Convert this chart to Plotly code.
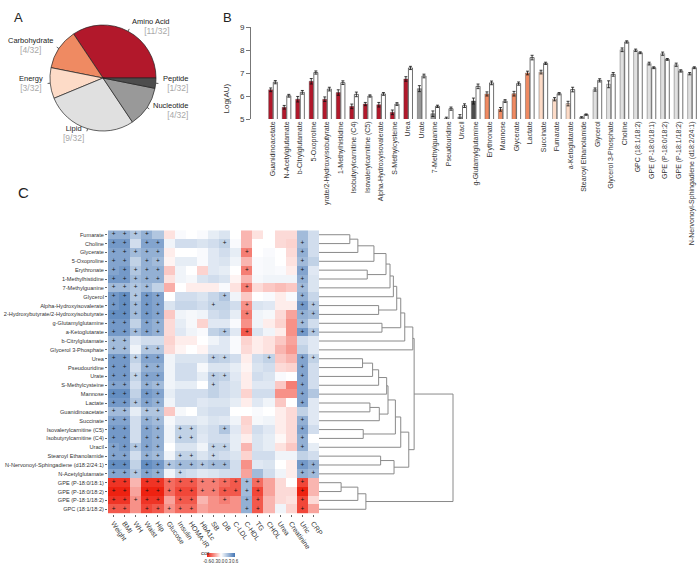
import math
import plotly.graph_objects as go

W, H = 698, 567
FONT = "Liberation Sans, Arial, sans-serif"

# ---- panel A: metabolite classes ----
pie_classes = ["Amino Acid", "Carbohydrate", "Energy", "Lipid", "Nucleotide", "Peptide"]
pie_counts = [11, 4, 3, 9, 4, 1]
class_colors = {"Amino Acid": "#b2182b", "Carbohydrate": "#ef8a62", "Energy": "#fddbc7",
                "Lipid": "#e0e0e0", "Nucleotide": "#999999", "Peptide": "#4d4d4d"}

# ---- panel B: log abundances, two groups ----
bar_metabolites = ["Guanidinoacetate", "N-Acetylglutamate", "b-Citrylglutamate", "5-Oxoproline",
                   "yrate/2-Hydroxyisobutyrate", "1-Methylhistidine", "Isobutyrylcarnitine (C4)",
                   "Isovalerylcarnitine (C5)", "Alpha-Hydroxyisovalerate", "S-Methylcysteine", "Urea",
                   "Urate", "7-Methylguanine", "Pseudouridine", "Uracil", "g-Glutamylglutamine",
                   "Erythronate", "Mannose", "Glycerate", "Lactate", "Succinate", "Fumarate",
                   "a-Ketoglutarate", "Stearoyl Ethanolamide", "Glycerol", "Glycerol 3-Phosphate",
                   "Choline", "GPC (18:1/18:2)", "GPE (P-18:0/18:1)", "GPE (P-18:0/18:2)",
                   "GPE (P-18:1/18:2)", "N-Nervonoyl-Sphingadiene (d18:2/24:1)"]
bar_classes = ["Amino Acid"] * 11 + ["Nucleotide"] * 4 + ["Peptide"] + ["Carbohydrate"] * 4 \
    + ["Energy"] * 3 + ["Lipid"] * 9
bar_group1 = [6.27, 5.51, 5.86, 6.64, 5.86, 6.15, 5.55, 5.65, 5.62, 5.29, 6.74,
              6.32, 5.23, 5.03, 5.09, 5.78, 6.09, 5.42, 6.10, 7.00, 7.04, 5.86,
              5.67, 5.07, 6.28, 6.51, 8.01, 7.99, 7.41, 7.84, 7.36, 6.97]
bar_group1_err = [0.08, 0.08, 0.12, 0.12, 0.10, 0.12, 0.10, 0.07, 0.10, 0.10, 0.10,
                  0.13, 0.12, 0.05, 0.10, 0.13, 0.09, 0.08, 0.10, 0.08, 0.08, 0.07,
                  0.10, 0.03, 0.07, 0.15, 0.08, 0.05, 0.06, 0.07, 0.07, 0.05]
bar_group2 = [6.60, 6.01, 6.16, 7.02, 6.30, 6.58, 6.07, 6.00, 6.09, 5.65, 7.22,
              6.87, 5.55, 5.45, 5.58, 6.42, 6.57, 5.78, 6.54, 7.67, 7.42, 6.10,
              6.28, 5.19, 6.68, 6.94, 8.35, 7.88, 7.23, 7.59, 7.09, 7.23]
bar_group2_err = [0.07, 0.06, 0.08, 0.07, 0.08, 0.08, 0.10, 0.05, 0.06, 0.06, 0.07,
                  0.08, 0.05, 0.07, 0.08, 0.10, 0.08, 0.06, 0.07, 0.10, 0.05, 0.05,
                  0.10, 0.03, 0.07, 0.08, 0.05, 0.04, 0.04, 0.04, 0.05, 0.04]

# ---- panel C: correlation heatmap ----
heat_rows = ["Fumarate", "Choline", "Glycerate", "5-Oxoproline", "Erythronate", "1-Methylhistidine",
             "7-Methylguanine", "Glycerol", "Alpha-Hydroxyisovalerate",
             "2-Hydroxybutyrate/2-Hydroxyisobutyrate", "g-Glutamylglutamine", "a-Ketoglutarate",
             "b-Citrylglutamate", "Glycerol 3-Phosphate", "Urea", "Pseudouridine", "Urate",
             "S-Methylcysteine", "Mannose", "Lactate", "Guanidinoacetate", "Succinate",
             "Isovalerylcarnitine (C5)", "Isobutyrylcarnitine (C4)", "Uracil", "Stearoyl Ethanolamide",
             "N-Nervonoyl-Sphingadiene (d18:2/24:1)", "N-Acetylglutamate", "GPE (P-18:0/18:1)",
             "GPE (P-18:0/18:2)", "GPE (P-18:1/18:2)", "GPC (18:1/18:2)"]
heat_cols = ["Weight", "BMI", "WH", "Waist", "Hip", "Glucose", "Insulin", "HOMA-IR", "HbA1c", "SB",
             "DB", "C-LDL", "C-HDL", "TG", "CHOL", "Urea", "Creatinine", "Uric", "CRP"]
heat_cor = [
    [0.35, 0.35, 0.25, 0.35, 0.25, -0.08, 0.02, 0.0, 0.02, 0.08, 0.12, 0.0, -0.2, -0.08, 0.0, -0.1, -0.1, 0.3, 0.15],
    [0.45, 0.45, 0.15, 0.4, 0.4, 0.05, 0.15, 0.15, 0.12, 0.15, 0.2, 0.02, -0.2, 0.0, 0.0, -0.1, -0.12, 0.3, 0.15],
    [0.4, 0.4, 0.3, 0.35, 0.35, -0.05, 0.0, 0.0, 0.02, 0.1, 0.15, 0.08, -0.35, 0.0, 0.02, 0.0, -0.1, 0.35, 0.15],
    [0.4, 0.4, 0.2, 0.35, 0.3, -0.03, 0.08, 0.08, 0.02, 0.1, 0.12, 0.05, -0.2, 0.02, 0.03, 0.0, -0.08, 0.3, 0.2],
    [0.4, 0.45, 0.25, 0.35, 0.35, -0.15, 0.05, 0.0, -0.12, 0.1, 0.08, 0.0, -0.35, 0.02, 0.03, 0.02, -0.05, 0.4, 0.1],
    [0.45, 0.45, 0.3, 0.35, 0.35, -0.08, 0.05, 0.03, 0.12, 0.15, 0.12, -0.03, -0.2, 0.03, 0.05, 0.05, 0.05, 0.35, 0.12],
    [0.3, 0.3, 0.25, 0.3, 0.2, -0.22, 0.0, -0.05, -0.05, -0.05, 0.02, -0.08, -0.35, -0.1, -0.15, -0.18, -0.15, 0.3, 0.12],
    [0.45, 0.5, 0.25, 0.45, 0.4, 0.0, 0.15, 0.15, 0.12, 0.18, 0.25, 0.05, -0.15, 0.0, 0.02, -0.05, 0.02, 0.35, 0.18],
    [0.45, 0.5, 0.3, 0.45, 0.4, 0.12, 0.18, 0.18, 0.15, 0.2, 0.2, 0.15, -0.3, 0.12, 0.1, -0.05, -0.05, 0.45, 0.25],
    [0.5, 0.5, 0.3, 0.45, 0.4, -0.15, 0.05, 0.03, 0.05, 0.15, 0.18, 0.08, -0.35, 0.05, 0.03, -0.1, -0.25, 0.35, 0.3],
    [0.45, 0.45, 0.2, 0.4, 0.35, -0.1, 0.08, 0.03, -0.12, 0.1, 0.1, 0.02, -0.3, 0.05, -0.05, -0.12, -0.3, 0.3, 0.15],
    [0.45, 0.45, 0.3, 0.4, 0.35, -0.1, 0.1, 0.05, 0.02, 0.2, 0.25, 0.1, -0.45, 0.12, 0.05, -0.05, -0.3, 0.45, 0.25],
    [0.3, 0.3, 0.1, 0.15, 0.15, -0.12, -0.05, -0.05, 0.0, 0.05, 0.1, 0.02, -0.12, -0.05, -0.08, -0.15, -0.25, 0.15, 0.1],
    [0.3, 0.3, 0.05, 0.25, 0.25, -0.1, -0.03, 0.0, -0.03, 0.1, 0.1, 0.02, -0.1, -0.05, -0.08, -0.2, -0.28, 0.2, 0.1],
    [0.45, 0.45, 0.2, 0.4, 0.4, 0.05, 0.12, 0.12, 0.12, 0.22, 0.2, 0.15, -0.05, 0.15, 0.2, -0.15, -0.2, 0.4, 0.2],
    [0.45, 0.45, 0.15, 0.35, 0.35, 0.05, 0.15, 0.15, 0.03, 0.12, 0.12, 0.08, -0.03, 0.12, 0.15, -0.1, -0.12, 0.4, 0.15],
    [0.45, 0.45, 0.2, 0.4, 0.4, 0.05, 0.15, 0.15, 0.08, 0.22, 0.2, 0.1, -0.05, 0.15, 0.12, 0.02, 0.0, 0.4, 0.15],
    [0.4, 0.4, 0.15, 0.35, 0.3, 0.05, 0.08, 0.08, 0.0, 0.2, 0.15, 0.12, -0.05, 0.1, 0.1, -0.15, -0.35, 0.4, 0.15],
    [0.5, 0.5, 0.2, 0.45, 0.4, 0.08, 0.15, 0.15, 0.15, 0.2, 0.15, 0.12, -0.12, 0.15, 0.15, -0.3, -0.3, 0.4, 0.25],
    [0.45, 0.45, 0.25, 0.4, 0.35, 0.05, 0.15, 0.15, 0.1, 0.12, 0.12, 0.08, -0.05, 0.1, 0.05, -0.15, 0.0, 0.4, 0.1],
    [0.3, 0.3, 0.08, 0.25, 0.25, -0.15, 0.03, 0.0, 0.12, 0.15, 0.15, 0.0, 0.0, 0.02, 0.0, -0.05, -0.1, 0.2, 0.1],
    [0.4, 0.4, 0.15, 0.35, 0.3, 0.03, 0.1, 0.1, 0.08, 0.12, 0.1, 0.05, -0.12, 0.03, 0.05, -0.05, -0.1, 0.35, 0.1],
    [0.45, 0.45, 0.15, 0.4, 0.35, 0.05, 0.2, 0.2, 0.12, 0.15, 0.25, 0.1, -0.1, 0.15, 0.1, -0.05, -0.1, 0.4, 0.15],
    [0.45, 0.45, 0.15, 0.4, 0.35, 0.05, 0.2, 0.2, 0.1, 0.15, 0.15, 0.08, -0.05, 0.12, 0.08, -0.02, -0.1, 0.35, 0.0],
    [0.4, 0.45, 0.25, 0.4, 0.35, 0.0, 0.12, 0.12, 0.05, 0.2, 0.2, 0.08, -0.2, 0.12, 0.08, -0.08, -0.15, 0.35, 0.08],
    [0.4, 0.4, 0.15, 0.35, 0.3, 0.05, 0.2, 0.2, 0.12, 0.18, 0.15, 0.12, -0.12, 0.15, 0.15, 0.05, 0.05, 0.2, 0.15],
    [0.5, 0.5, 0.2, 0.5, 0.45, 0.25, 0.3, 0.3, 0.25, 0.3, 0.3, 0.15, -0.3, 0.1, 0.12, 0.0, -0.05, 0.45, 0.35],
    [0.4, 0.4, 0.25, 0.4, 0.35, 0.05, 0.18, 0.15, 0.1, 0.12, 0.15, 0.15, -0.25, 0.3, 0.15, 0.05, -0.05, 0.35, 0.3],
    [-0.55, -0.55, -0.2, -0.55, -0.55, -0.4, -0.45, -0.45, -0.35, -0.35, -0.4, -0.45, 0.3, -0.4, -0.25, -0.1, 0.0, -0.5, -0.2],
    [-0.65, -0.6, -0.25, -0.65, -0.7, -0.4, -0.5, -0.5, -0.35, -0.35, -0.45, -0.45, 0.3, -0.5, -0.25, -0.1, -0.1, -0.65, -0.2],
    [-0.55, -0.55, -0.3, -0.55, -0.55, -0.25, -0.45, -0.45, -0.2, -0.3, -0.35, -0.3, 0.35, -0.45, -0.2, -0.1, -0.08, -0.5, -0.1],
    [-0.45, -0.45, -0.3, -0.5, -0.45, -0.3, -0.4, -0.4, -0.25, -0.3, -0.3, -0.3, 0.35, -0.45, -0.2, 0.05, -0.12, -0.5, -0.25],
]
heat_sig = [
    "1111000000000000000", "1101100000100000010", "1111100000001000010", "1101100000000000010",
    "1111100000001000010", "1111100000000000010", "1111000000001000010", "1111100000100000010",
    "1111100001001000011", "1111100000001000011", "1101100000000000010", "1111100000101000011",
    "1100000000000000000", "1101100000000000000", "1111100001100010011", "1101100000000000010",
    "1111100001100000010", "1101100001000000010", "1101100000000000010", "1111100000000000010",
    "1101100000000000000", "1101100000000000010", "1101101100100000010", "1101101100000000010",
    "1111100001100000010", "1101101101000000000", "1101111111100000011", "1111101000000000011",
    "1101111111111100010", "1101111111111100010", "1111101100101100010", "1101111100001100010",
]
# row clustering: (left, right, height); leaves 0..31, merged clusters numbered from 32
dendro_merges = [
    (0, 1, 0.23), (32, 2, 0.29), (33, 3, 0.41), (4, 5, 0.36), (34, 35, 0.50), (36, 6, 0.53),
    (37, 7, 0.555), (8, 9, 0.445), (38, 39, 0.58), (10, 11, 0.47), (40, 41, 0.61), (42, 12, 0.64),
    (43, 13, 0.70), (14, 15, 0.325), (45, 16, 0.40), (46, 17, 0.445), (47, 18, 0.505),
    (19, 20, 0.38), (49, 21, 0.45), (48, 50, 0.515), (22, 23, 0.33), (51, 52, 0.57), (53, 24, 0.61),
    (25, 26, 0.46), (55, 27, 0.56), (54, 56, 0.67), (44, 57, 0.71), (28, 29, 0.165), (59, 30, 0.29),
    (60, 31, 0.35), (58, 61, 1.0),
]


def px_x(x):
    return x / W


def px_y(y):
    return 1 - y / H


fig = go.Figure()
annotations = []
shapes = []

# ---------------- A: pie ----------------
cx, cy, r = 103, 78, 53
total = sum(pie_counts)
# plotly's counterclockwise pie ends the first slice at `rotation`, so shift it back
first_start = 90 - 360 * pie_counts[0] / total
fig.add_trace(go.Pie(
    labels=pie_classes, values=pie_counts, sort=False, direction="counterclockwise",
    rotation=first_start,
    marker=dict(colors=[class_colors[c] for c in pie_classes], line=dict(color="#222", width=0.7)),
    textinfo="none", hoverinfo="label+value", showlegend=False,
    domain=dict(x=[px_x(cx - r), px_x(cx + r)], y=[px_y(cy + r), px_y(cy - r)]),
))
cum = 0
for name, n in zip(pie_classes, pie_counts):
    mid = math.radians((cum + n / 2) / total * 360)
    cum += n
    c, s = math.cos(mid), math.sin(mid)
    shapes.append(dict(type="line", xref="paper", yref="paper",
                       x0=px_x(cx + r * c), y0=px_y(cy - r * s),
                       x1=px_x(cx + 1.05 * r * c), y1=px_y(cy - 1.05 * r * s),
                       line=dict(color="#333", width=0.8)))
    annotations.append(dict(
        x=px_x(cx + 1.1 * r * c), y=px_y(cy - 1.1 * r * s), xref="paper", yref="paper",
        text=f"{name}<br><span style='color:#a8a8a8;font-size:8.5px'>[{n}/{total}]</span>",
        showarrow=False, xanchor="left" if c > 0 else "right", yanchor="middle",
        align="right" if c > 0 else "center", font=dict(size=7.5, color="#222", family=FONT)))

# ---------------- B: bars ----------------
xs = list(range(len(bar_metabolites)))
fig.add_trace(go.Bar(
    x=xs, y=bar_group1, width=0.3, offset=-0.32, showlegend=False,
    marker=dict(color=[class_colors[c] for c in bar_classes], line=dict(color="#444", width=0.4)),
    error_y=dict(type="data", array=bar_group1_err, color="#111", thickness=0.8, width=1.5),
    xaxis="x", yaxis="y"))
fig.add_trace(go.Bar(
    x=xs, y=bar_group2, width=0.3, offset=0.02, showlegend=False,
    marker=dict(color="white", line=dict(color="#333", width=0.7)),
    error_y=dict(type="data", array=bar_group2_err, color="#111", thickness=0.8, width=1.5),
    xaxis="x", yaxis="y"))
annotations.append(dict(x=px_x(219), y=px_y(82), xref="paper", yref="paper", text="Log(AU)",
                        textangle=-90, showarrow=False, font=dict(size=8, color="#333", family=FONT)))

# ---------------- C: heatmap ----------------
fig.add_trace(go.Heatmap(
    z=heat_cor, x=list(range(len(heat_cols))), y=list(range(len(heat_rows))),
    xaxis="x2", yaxis="y2", zmin=-0.6, zmax=0.6,
    colorscale=[[0, "#ee2211"], [0.5, "#ffffff"], [1, "#4577b5"]],
    colorbar=dict(orientation="h", x=px_x(221), xanchor="center", y=px_y(553), yanchor="top",
                  len=28, lenmode="pixels", thickness=4, outlinewidth=0, xpad=0, ypad=0,
                  tickvals=[-0.6, -0.3, 0, 0.3, 0.6], ticktext=["-0.6", "-0.3", "0.0", "0.3", "0.6"],
                  tickangle=0, ticks="", ticklabeloverflow="allow",
                  tickfont=dict(size=4.5, color="#333", family=FONT)),
))
sx, sy = [], []
for i, row in enumerate(heat_sig):
    for j, flag in enumerate(row):
        if flag == "1":
            sx.append(j)
            sy.append(i)
fig.add_trace(go.Scatter(x=sx, y=sy, mode="text", text=["+"] * len(sx), showlegend=False,
                         textfont=dict(size=6.5, color="#111", family=FONT),
                         hoverinfo="skip", xaxis="x2", yaxis="y2"))
annotations.append(dict(x=px_x(199), y=px_y(558), xref="paper", yref="paper", text="cor",
                        showarrow=False, font=dict(size=6, color="#333", family=FONT)))

# dendrogram built from merge list
pos = {i: (0.0, float(i)) for i in range(len(heat_rows))}
dx, dy = [], []
for k, (a, b, h) in enumerate(dendro_merges):
    ha, ya = pos[a]
    hb, yb = pos[b]
    dx += [ha, h, h, hb, None]
    dy += [ya, ya, yb, yb, None]
    pos[len(heat_rows) + k] = (h, (ya + yb) / 2)
fig.add_trace(go.Scatter(x=dx, y=dy, mode="lines", line=dict(color="#8a8a8a", width=1),
                         showlegend=False, hoverinfo="skip", xaxis="x3", yaxis="y2"))

# panel letters
for letter, (lx, ly, size) in {"A": (12, 8, 13), "B": (221, 8, 13), "C": (16, 193, 15)}.items():
    annotations.append(dict(x=px_x(lx), y=px_y(ly), xref="paper", yref="paper", text=letter,
                            showarrow=False, font=dict(size=size, color="#222", family=FONT)))

# axis geometry (pixels -> domains)
bx0, bx1, b_first, b_last = 251, 698, 273, 692
b_unit = (b_last - b_first) / (len(bar_metabolites) - 1)
hx0, hx1, hy0, hy1 = 108, 319, 230.3, 513.7
dend_x1 = 462
dend_scale = (453 - hx1)  # pixels per unit height

fig.update_layout(
    width=W, height=H, margin=dict(l=0, r=0, t=0, b=0, autoexpand=False),
    paper_bgcolor="white", plot_bgcolor="white",
    font=dict(family=FONT, color="#333"), barmode="overlay", showlegend=False,
    xaxis=dict(domain=[px_x(bx0), px_x(bx1)],
               range=[-(b_first - bx0) / b_unit, len(bar_metabolites) - 1 + (bx1 - b_last) / b_unit],
               tickvals=xs, ticktext=bar_metabolites, tickangle=-90, ticks="", showline=False,
               showgrid=False, zeroline=False, tickfont=dict(size=7, color="#333"), anchor="y",
               automargin=False),
    yaxis=dict(domain=[px_y(119), px_y(27)], range=[5, 9], tickvals=[5, 6, 7, 8, 9],
               showline=True, linecolor="#777", linewidth=1, ticks="outside", ticklen=4,
               tickcolor="#777", showgrid=False, zeroline=False,
               tickfont=dict(size=8, color="#333"), anchor="x", automargin=False),
    xaxis2=dict(domain=[px_x(hx0), px_x(hx1)], range=[-0.5, len(heat_cols) - 0.5],
                tickvals=list(range(len(heat_cols))), ticktext=heat_cols, tickangle=55,
                ticks="outside", ticklen=2, tickcolor="#666", showgrid=False, zeroline=False,
                showline=False, tickfont=dict(size=7, color="#333"), anchor="y2", automargin=False),
    yaxis2=dict(domain=[px_y(hy1), px_y(hy0)], range=[len(heat_rows) - 0.5, -0.5],
                tickvals=list(range(len(heat_rows))), ticktext=heat_rows, ticks="outside",
                ticklen=2, tickcolor="#666", showgrid=False, zeroline=False, showline=False,
                tickfont=dict(size=5.6, color="#333"), anchor="x2", automargin=False),
    xaxis3=dict(domain=[px_x(hx1), px_x(dend_x1)], range=[0, (dend_x1 - hx1) / dend_scale],
                visible=False, anchor="y2", automargin=False),
    annotations=annotations, shapes=shapes,
)

# the page's default 8px body margin would shift the whole figure; remove it
fig.write_html("out.html", config={"displayModeBar": False},
               post_script="document.body.style.margin = '0px';")
